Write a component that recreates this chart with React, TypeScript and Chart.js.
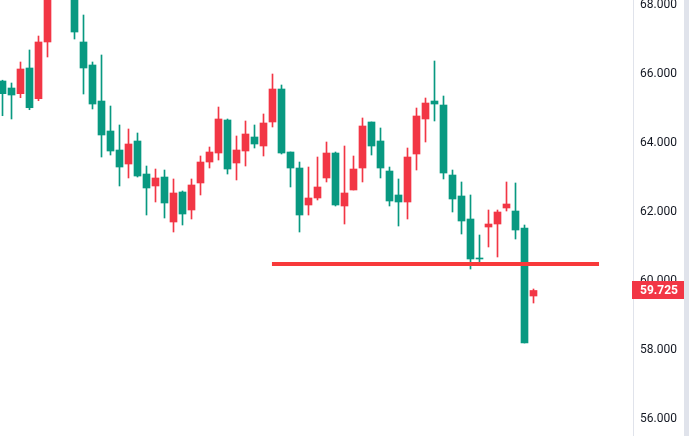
import React, { useEffect, useRef } from "react";
import { Chart, registerables } from "chart.js";

Chart.register(...registerables);

// OHLC values per session (index 0 = leftmost candle)
const opens = [
  65.797, 65.594, 65.429, 66.174, 65.284, 66.928, 68.8, 69.5, 68.9, 66.928,
  66.261, 65.217, 64.348, 63.797, 63.391, 64.058, 63.101, 62.754, 63.014, 61.71,
  62.58, 62.058, 62.841, 63.449, 63.71, 64.667, 63.42, 63.768, 64.174, 63.913,
  64.609, 65.565, 63.739, 63.275, 62.203, 62.406, 62.986, 63.71, 62.174, 62.638,
  63.275, 64.609, 64.058, 63.188, 62.493, 62.29, 63.681, 64.696, 65.217, 65.101,
  63.072, 62.464, 61.797, 60.667, 61.565, 61.652, 62.116, 62.029, 61.536, 59.565,
];
const highs = [
  65.82, 65.739, 66.348, 66.696, 67.101, 69.2, 69.9, 69.8, 69.1, 67.71,
  66.348, 66.551, 65.072, 64.522, 64.406, 64.29, 63.333, 63.246, 63.217, 62.957,
  62.609, 62.957, 63.623, 63.884, 65.043, 64.696, 64.203, 64.638, 64.522, 64.841,
  66.0, 65.681, 63.739, 63.449, 63.304, 63.594, 64.029, 63.739, 63.913, 63.623,
  64.725, 64.609, 64.435, 63.304, 62.957, 63.855, 65.014, 65.304, 66.377, 65.362,
  63.217, 62.87, 62.493, 61.333, 62.058, 62.058, 62.87, 62.841, 61.623, 59.768,
];
const lows = [
  64.791, 64.696, 65.313, 64.965, 65.226, 66.493, 68.5, 68.4, 67.014, 65.42,
  64.986, 63.594, 63.652, 62.754, 62.986, 63.014, 61.913, 62.29, 61.826, 61.42,
  61.623, 61.797, 62.493, 63.275, 63.507, 63.101, 62.928, 63.333, 63.855, 63.623,
  64.464, 63.681, 62.725, 61.42, 61.913, 62.348, 62.87, 62.174, 61.652, 62.638,
  62.87, 63.652, 62.986, 62.174, 61.594, 61.797, 63.217, 64.029, 64.638, 62.957,
  62.0, 61.362, 60.348, 60.551, 60.986, 60.696, 62.029, 61.217, 58.203, 59.362,
];
const closes = [
  65.429, 65.391, 66.145, 65.023, 66.928, 68.9, 69.6, 68.9, 67.217, 66.174,
  65.13, 64.232, 63.768, 63.304, 63.971, 63.043, 62.696, 62.986, 62.261, 62.551,
  61.942, 62.783, 63.449, 63.739, 64.696, 63.246, 63.797, 64.261, 63.971, 64.58,
  65.565, 63.71, 63.275, 61.913, 62.406, 62.725, 63.71, 62.203, 62.551, 63.246,
  64.493, 63.913, 63.275, 62.319, 62.29, 63.594, 64.783, 65.159, 65.13, 63.13,
  62.377, 61.739, 60.638, 60.638, 61.652, 62.0, 62.232, 61.478, 58.203, 59.725,
];

const yTickValues = [56, 58, 60, 62, 64, 66, 68];
const levelValue = 60.49;
const levelFrom = 29.94;
const levelTo = 66.28;
const lastPrice = 59.725;

const UP = "#f23645";
const DOWN = "#089981";
const LEVEL = "#f8393a";

export default function App() {
  const ref = useRef<HTMLCanvasElement>(null);

  useEffect(() => {
    if (!ref.current) return;
    const idx = opens.map((_, i) => i);
    const colors = idx.map((i) => (closes[i] < opens[i] ? DOWN : UP));
    const bodies = idx.map((i) => ({ x: i, y: [opens[i], closes[i]] }));
    const wicks = idx.map((i) => ({ x: i, y: [lows[i], highs[i]] }));

    const priceLabel = {
      id: "priceLabel",
      afterDraw(chart: any) {
        const ys = chart.scales.y;
        const ctx = chart.ctx;
        const py = ys.getPixelForValue(lastPrice);
        ctx.save();
        ctx.fillStyle = UP;
        ctx.fillRect(ys.left - 1, Math.round(py) - 9, ys.right - ys.left + 1, 18);
        ctx.fillStyle = "#ffffff";
        ctx.font = "bold 12px Roboto";
        ctx.textBaseline = "middle";
        ctx.textAlign = "left";
        ctx.fillText(lastPrice.toFixed(3), ys.left + 7, Math.round(py) + 0.5);
        ctx.restore();
      },
    };

    const chart = new Chart(ref.current, {
      type: "bar",
      data: {
        datasets: [
          {
            type: "line",
            data: [
              { x: levelFrom, y: levelValue },
              { x: levelTo, y: levelValue },
            ],
            borderColor: LEVEL,
            borderWidth: 4,
            pointRadius: 0,
            borderCapStyle: "butt",
          } as any,
          {
            data: bodies as any,
            backgroundColor: colors,
            borderWidth: 0,
            barThickness: 7,
            grouped: false,
          },
          {
            data: wicks as any,
            backgroundColor: colors,
            borderWidth: 0,
            barThickness: 1,
            grouped: false,
          },
        ],
      },
      options: {
        animation: false,
        responsive: true,
        maintainAspectRatio: false,
        events: [],
        layout: { padding: 0 },
        plugins: { legend: { display: false }, tooltip: { enabled: false } },
        scales: {
          x: {
            type: "linear",
            display: false,
            offset: false,
            min: -2.5 / 9,
            max: (633 - 2.5) / 9,
          },
          y: {
            type: "linear",
            position: "right",
            beginAtZero: false,
            min: 68 - 431 / 34.5,
            max: 68 + 5 / 34.5,
            grid: { display: true, color: "transparent", drawTicks: false, drawOnChartArea: false },
            border: { display: true, color: "#e0e3eb", width: 1 },
            afterBuildTicks: (scale: any) => {
              scale.ticks = yTickValues.map((v) => ({ value: v }));
            },
            afterFit: (scale: any) => {
              scale.width = 51;
              scale.paddingTop = 0;
              scale.paddingBottom = 0;
            },
            ticks: {
              padding: 7,
              color: "#131722",
              font: { family: "Roboto", size: 12 },
              callback: (v: any) => Number(v).toFixed(3),
            },
          },
        },
      },
      plugins: [priceLabel],
    });
    return () => chart.destroy();
  }, []);

  return (
    <div style={{ position: "fixed", left: 0, top: 0, width: 689, height: 436, background: "#e0e3eb" }}>
      <div style={{ position: "absolute", left: 0, top: 0, width: 684, height: 436, background: "#ffffff" }}>
        <canvas ref={ref} />
      </div>
    </div>
  );
}
